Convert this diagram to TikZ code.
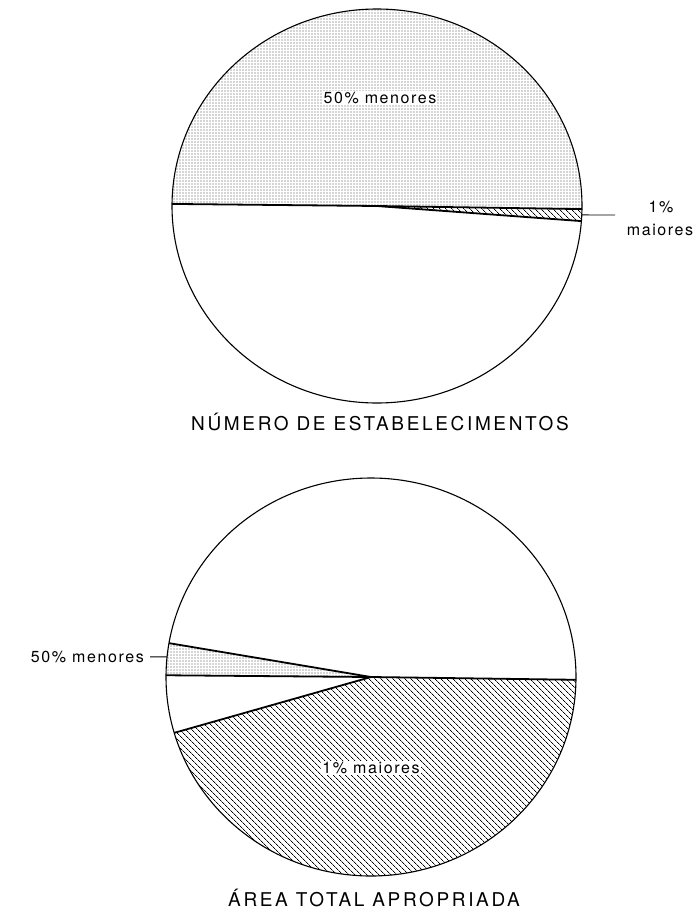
\documentclass[tikz,border=0pt]{standalone}
\usepackage{fontspec}
\setmainfont{TeX Gyre Heros}
\newfontfamily\lblfont[LetterSpace=10]{TeX Gyre Heros}
\newfontfamily\capfont[LetterSpace=14]{TeX Gyre Heros}
\usetikzlibrary{patterns.meta}
\begin{document}
\begin{tikzpicture}[x=1pt,y=-1pt,
        stipple/.style={pattern={Dots[distance=3pt,radius=0.6pt]},pattern color=black!70},
        hatched/.style={pattern={Lines[angle=-45,distance=4pt,line width=0.8pt]},
            pattern color=black},
        rimline/.style={line width=1.1pt},
        wedgeline/.style={line width=1.8pt},
        leader/.style={line width=0.9pt},
        lbl/.style={font={\lblfont\fontsize{16}{18}\selectfont},inner sep=1pt},
        captext/.style={font={\capfont\fontsize{19}{22}\selectfont}}]
    \useasboundingbox (0,0) rectangle (699,910);
    \fill[white] (0,0) rectangle (699,910);
    \coordinate (topc) at (377,206);
    \path (topc) ++(180.6:205 and 197) coordinate (t1)
          (topc) ++(0.9:205 and 197) coordinate (t2)
          (topc) ++(4.4:205 and 197) coordinate (t3)
          (topc) ++(2.6:205 and 197) coordinate (tlead);
    \fill[stipple] (topc) -- (t1) arc[start angle=180.6,end angle=360.9,x radius=205,y radius=197] -- cycle;
    \fill[hatched] (topc) -- (t2) arc[start angle=0.9,end angle=4.4,x radius=205,y radius=197] -- cycle;
    \draw[rimline] (topc) ellipse[x radius=205,y radius=197];
    \foreach \p in {t1,t2,t3} \draw[wedgeline] (topc) -- (\p);
    \node[lbl,fill=white] (tsmall) at (380,98) {50\% menores};
    \coordinate (tend) at (615,215);
    \draw[leader] (tlead) -- (tend);
    \node[lbl] (tone) at (661,207) {1\%};
    \node[lbl] (tbig) at (660,230) {maiores};
    \node[captext] (tcap) at (380,422) {NÚMERO DE ESTABELECIMENTOS};
    \coordinate (botc) at (371,677);
    \path (botc) ++(189.8:205 and 199) coordinate (b1)
          (botc) ++(180.5:205 and 199) coordinate (b2)
          (botc) ++(163.7:205 and 199) coordinate (b3)
          (botc) ++(0.8:205 and 199) coordinate (b4)
          (botc) ++(185.8:205 and 199) coordinate (blead);
    \fill[stipple] (botc) -- (b2) arc[start angle=180.5,end angle=189.8,x radius=205,y radius=199] -- cycle;
    \fill[hatched] (botc) -- (b3) arc[start angle=163.7,end angle=0.8,x radius=205,y radius=199] -- cycle;
    \draw[rimline] (botc) ellipse[x radius=205,y radius=199];
    \foreach \p in {b1,b2,b3,b4} \draw[wedgeline] (botc) -- (\p);
    \node[lbl,fill=white] (bbig) at (371,768) {1\% maiores};
    \node[lbl,anchor=east] (bsmall) at (145,657) {50\% menores};
    \draw[leader,shorten <=5pt] (bsmall) -- (blead);
    \node[captext] (bcap) at (374,898) {ÁREA TOTAL APROPRIADA};
\end{tikzpicture}
\end{document}
